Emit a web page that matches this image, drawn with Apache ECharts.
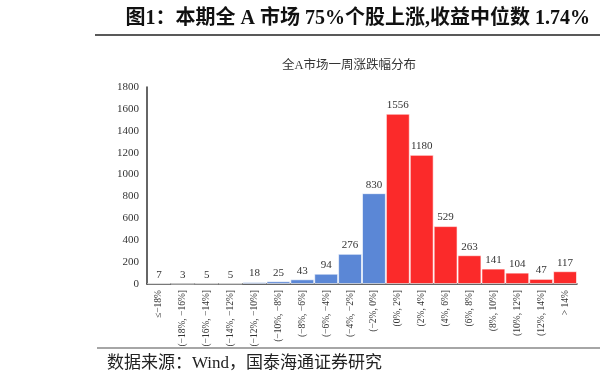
<!DOCTYPE html>
<html>
<head>
<meta charset="utf-8">
<script src="https://cdn.jsdelivr.net/npm/echarts@6/dist/echarts.min.js"></script>
<style>
html,body{margin:0;padding:0;background:#fff;}
#c{width:600px;height:385px;}
</style>
</head>
<body>
<div id="c"></div>
<script>
var categories = ["≤−18%", "(−18%, −16%]", "(−16%, −14%]", "(−14%, −12%]", "(−12%, −10%]", "(−10%, −8%]", "(−8%, −6%]", "(−6%, −4%]", "(−4%, −2%]", "(−2%, 0%]", "(0%, 2%]", "(2%, 4%]", "(4%, 6%]", "(6%, 8%]", "(8%, 10%]", "(10%, 12%]", "(12%, 14%]", "> 14%"];
var counts = [7, 3, 5, 5, 18, 25, 43, 94, 276, 830, 1556, 1180, 529, 263, 141, 104, 47, 117];
var yTicks = [0, 200, 400, 600, 800, 1000, 1200, 1400, 1600, 1800];

var serif = "'Liberation Serif', 'DejaVu Serif', 'Noto Sans CJK SC', serif";
var blue = '#5b87d6', red = '#fb2a2a';
var chart = echarts.init(document.getElementById('c'));
chart.setOption({
  animation: false,
  backgroundColor: '#fff',
  grid: {left: 147, right: 23, top: 87, bottom: 101},
  xAxis: {
    type: 'category', data: categories,
    axisLine: {lineStyle: {color: '#333', width: 1.5}},
    axisTick: {show: false},
    axisLabel: {rotate: 90, interval: 0, fontSize: 9.5, color: '#333', fontFamily: serif, margin: 6}
  },
  yAxis: {
    type: 'value', min: yTicks[0], max: yTicks[yTicks.length - 1], interval: 200,
    axisLine: {show: true, lineStyle: {color: '#333', width: 1.5}},
    axisTick: {show: false},
    splitLine: {show: false},
    axisLabel: {fontSize: 11, color: '#333', fontFamily: serif, margin: 8, formatter: function (v) { return String(v); }}
  },
  series: [{
    type: 'bar',
    data: counts.map(function (v, i) { return {value: v, itemStyle: {color: i < 10 ? blue : red}}; }),
    barCategoryGap: '0%',
    itemStyle: {borderColor: 'rgba(255,255,255,0.6)', borderWidth: 1},
    label: {show: true, position: 'top', fontSize: 11, color: '#333', fontFamily: serif, distance: 3}
  }],
  graphic: [
    {type: 'text', right: 10, top: 9, style: {text: '图1：本期全 A 市场 75%个股上涨,收益中位数 1.74%', font: "bold 20px " + serif, fill: '#111'}},
    {type: 'line', shape: {x1: 95, y1: 35, x2: 600, y2: 35}, style: {stroke: '#222', lineWidth: 1.5}},
    {type: 'text', left: 282, top: 59, style: {text: '全A市场一周涨跌幅分布', font: "12.5px " + serif, fill: '#333'}},
    {type: 'line', shape: {x1: 97, y1: 348, x2: 600, y2: 348}, style: {stroke: '#888', lineWidth: 1.5}},
    {type: 'text', left: 107, top: 355, style: {text: '数据来源：Wind，国泰海通证券研究', font: "17px " + serif, fill: '#222'}}
  ]
});
</script>
</body>
</html>
